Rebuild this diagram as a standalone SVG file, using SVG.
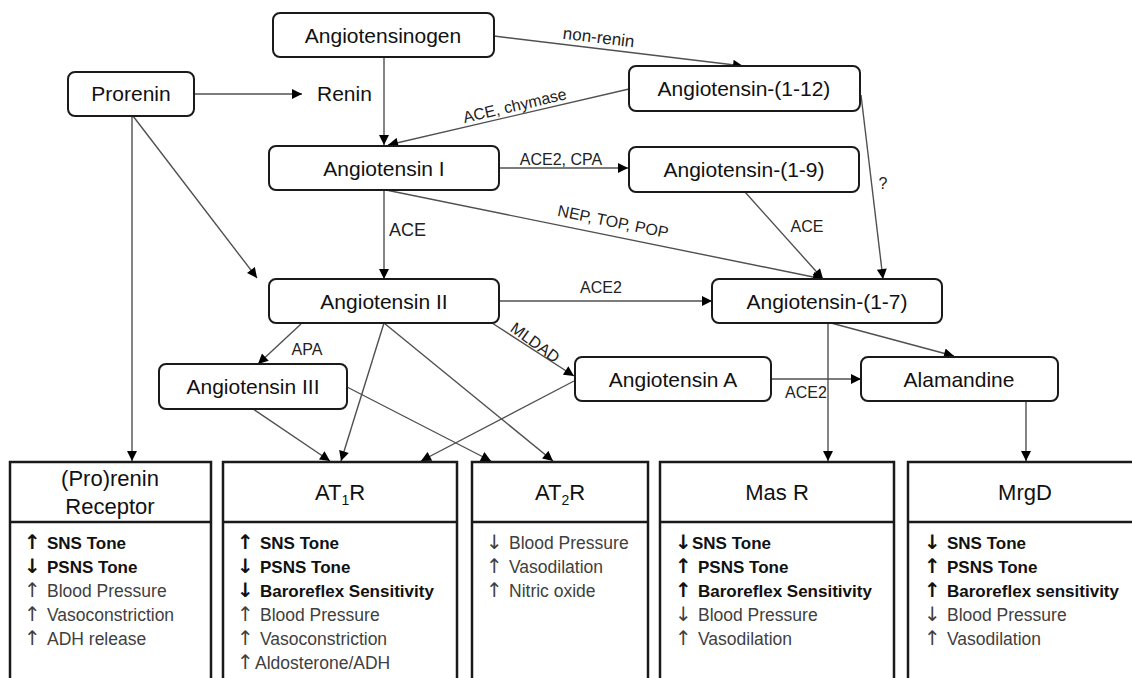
<svg xmlns="http://www.w3.org/2000/svg" width="1132" height="678" viewBox="0 0 1132 678">
<defs>
<style>
.node rect{fill:#fff;stroke:#1a1a1a;stroke-width:2}
.nt{font-family:"Liberation Sans",Arial,sans-serif;font-size:21px;fill:#111;text-anchor:middle}
.lab{font-family:"Liberation Sans",Arial,sans-serif;font-size:16px;fill:#222}
.conn path{fill:none;stroke:#505050;stroke-width:1.4;marker-end:url(#ah)}
.rbox rect{fill:#fff;stroke:#1a1a1a;stroke-width:2.5}
.rbox line{stroke:#1a1a1a;stroke-width:2.5}
.hd{font-family:"Liberation Sans",Arial,sans-serif;font-size:22px;fill:#111;text-anchor:middle}
.b{font-family:"Liberation Sans",Arial,sans-serif;font-size:17px;font-weight:bold;fill:#111}
.r{font-family:"Liberation Sans",Arial,sans-serif;font-size:17.5px;fill:#404040}
.ar{font-family:"DejaVu Sans",sans-serif;font-size:20px}
</style>
<marker id="ah" viewBox="0 0 10 10" refX="10" refY="5" markerWidth="11" markerHeight="10" markerUnits="userSpaceOnUse" orient="auto">
<path d="M0,0 L10,5 L0,10 Z" fill="#000"/>
</marker>
</defs>
<rect width="1132" height="678" fill="#fff"/>

<g id="connectors" class="conn">
<path d="M384,57 L384,145"/>
<path d="M629,89 L388,145"/>
<path d="M494,36 L743,66"/>
<path d="M194,94 L302,94"/>
<path d="M133,116 L257,278"/>
<path d="M132,116 L132,461"/>
<path d="M499,168 L628,168"/>
<path d="M384,190 L384,279"/>
<path d="M386,190 L823,279"/>
<path d="M745,192 L823,279"/>
<path d="M861,95 L883,279"/>
<path d="M499,301 L712,301"/>
<path d="M301,324 L258,364"/>
<path d="M384,323 L341,461"/>
<path d="M384,323 L553,461"/>
<path d="M492,323 L574,376"/>
<path d="M253,409 L330,461"/>
<path d="M347,387 L491,461"/>
<path d="M574,381 L421,461"/>
<path d="M771,379 L861,379"/>
<path d="M828,323 L828,461"/>
<path d="M831,323 L954,356"/>
<path d="M1026,400 L1026,461"/>
</g>

<g id="edge-labels">
<text class="lab" text-anchor="middle" transform="translate(598,43) rotate(6.9)" style="font-size:17px">non-renin</text>
<text class="lab" text-anchor="middle" transform="translate(516,111) rotate(-13.1)">ACE, chymase</text>
<text class="lab" text-anchor="middle" x="561" y="165">ACE2, CPA</text>
<text class="lab" x="389" y="236" style="font-size:18px">ACE</text>
<text class="lab" text-anchor="middle" transform="translate(612,227) rotate(11.5)">NEP, TOP, POP</text>
<text class="lab" text-anchor="middle" x="807" y="232">ACE</text>
<text class="lab" text-anchor="middle" x="883" y="189">?</text>
<text class="lab" text-anchor="middle" x="601" y="293">ACE2</text>
<text class="lab" text-anchor="middle" x="307" y="355">APA</text>
<text class="lab" text-anchor="middle" transform="translate(532,347) rotate(36)">MLDAD</text>
<text class="lab" text-anchor="middle" x="806" y="398">ACE2</text>
</g>

<g id="renin"><text class="nt" x="317" y="101" style="text-anchor:start">Renin</text></g>

<g id="angiotensinogen" class="node"><rect x="273" y="13" width="221" height="44" rx="7"/><text class="nt" x="383" y="43">Angiotensinogen</text></g>
<g id="prorenin" class="node"><rect x="68" y="72" width="126" height="44" rx="7"/><text class="nt" x="131" y="101">Prorenin</text></g>
<g id="ang1-12" class="node"><rect x="629" y="66" width="231" height="45" rx="7"/><text class="nt" x="744" y="96">Angiotensin-(1-12)</text></g>
<g id="ang1" class="node"><rect x="269" y="146" width="230" height="44" rx="7"/><text class="nt" x="384" y="176">Angiotensin I</text></g>
<g id="ang1-9" class="node"><rect x="629" y="147" width="230" height="45" rx="7"/><text class="nt" x="744" y="177">Angiotensin-(1-9)</text></g>
<g id="ang2" class="node"><rect x="269" y="279" width="230" height="44" rx="7"/><text class="nt" x="384" y="309">Angiotensin II</text></g>
<g id="ang1-7" class="node"><rect x="712" y="279" width="230" height="44" rx="7"/><text class="nt" x="827" y="309">Angiotensin-(1-7)</text></g>
<g id="ang3" class="node"><rect x="159" y="364" width="188" height="45" rx="7"/><text class="nt" x="253" y="394">Angiotensin III</text></g>
<g id="angA" class="node"><rect x="575" y="357" width="196" height="44" rx="7"/><text class="nt" x="673" y="387">Angiotensin A</text></g>
<g id="alamandine" class="node"><rect x="861" y="357" width="197" height="44" rx="7"/><text class="nt" x="959" y="387">Alamandine</text></g>

<g id="prorenin-receptor" class="rbox">
<rect x="10" y="462" width="201" height="240"/>
<line x1="10" y1="522" x2="211" y2="522"/>
<text class="hd" x="110" y="486">(Pro)renin</text>
<text class="hd" x="110" y="514">Receptor</text>
<text class="b" x="24" y="549"><tspan class="ar">↑</tspan><tspan x="47">SNS Tone</tspan></text>
<text class="b" x="24" y="573"><tspan class="ar">↓</tspan><tspan x="47">PSNS Tone</tspan></text>
<text class="r" x="24" y="597"><tspan class="ar">↑</tspan><tspan x="47">Blood Pressure</tspan></text>
<text class="r" x="24" y="621"><tspan class="ar">↑</tspan><tspan x="47">Vasoconstriction</tspan></text>
<text class="r" x="24" y="645"><tspan class="ar">↑</tspan><tspan x="47">ADH release</tspan></text>
</g>

<g id="at1r" class="rbox">
<rect x="223" y="462" width="234" height="240"/>
<line x1="223" y1="522" x2="457" y2="522"/>
<text class="hd" x="340" y="500">AT<tspan font-size="14" dy="5">1</tspan><tspan dy="-5">R</tspan></text>
<text class="b" x="237" y="549"><tspan class="ar">↑</tspan><tspan x="260">SNS Tone</tspan></text>
<text class="b" x="237" y="573"><tspan class="ar">↓</tspan><tspan x="260">PSNS Tone</tspan></text>
<text class="b" x="237" y="597"><tspan class="ar">↓</tspan><tspan x="260">Baroreflex Sensitivity</tspan></text>
<text class="r" x="237" y="621"><tspan class="ar">↑</tspan><tspan x="260">Blood Pressure</tspan></text>
<text class="r" x="237" y="645"><tspan class="ar">↑</tspan><tspan x="260">Vasoconstriction</tspan></text>
<text class="r" x="237" y="669"><tspan class="ar">↑</tspan><tspan x="255">Aldosterone/ADH</tspan></text>
</g>

<g id="at2r" class="rbox">
<rect x="472" y="462" width="176" height="240"/>
<line x1="472" y1="522" x2="648" y2="522"/>
<text class="hd" x="560" y="500">AT<tspan font-size="14" dy="5">2</tspan><tspan dy="-5">R</tspan></text>
<text class="r" x="486" y="549"><tspan class="ar">↓</tspan><tspan x="509">Blood Pressure</tspan></text>
<text class="r" x="486" y="573"><tspan class="ar">↑</tspan><tspan x="509">Vasodilation</tspan></text>
<text class="r" x="486" y="597"><tspan class="ar">↑</tspan><tspan x="509">Nitric oxide</tspan></text>
</g>

<g id="masr" class="rbox">
<rect x="660" y="462" width="234" height="240"/>
<line x1="660" y1="522" x2="894" y2="522"/>
<text class="hd" x="777" y="500">Mas R</text>
<text class="b" x="675" y="549"><tspan class="ar">↓</tspan><tspan x="692">SNS Tone</tspan></text>
<text class="b" x="675" y="573"><tspan class="ar">↑</tspan><tspan x="698">PSNS Tone</tspan></text>
<text class="b" x="675" y="597"><tspan class="ar">↑</tspan><tspan x="698">Baroreflex Sensitivity</tspan></text>
<text class="r" x="675" y="621"><tspan class="ar">↓</tspan><tspan x="698">Blood Pressure</tspan></text>
<text class="r" x="675" y="645"><tspan class="ar">↑</tspan><tspan x="698">Vasodilation</tspan></text>
</g>

<g id="mrgd" class="rbox">
<rect x="908" y="462" width="240" height="240"/>
<line x1="908" y1="522" x2="1148" y2="522"/>
<text class="hd" x="1025" y="500">MrgD</text>
<text class="b" x="924" y="549"><tspan class="ar">↓</tspan><tspan x="947">SNS Tone</tspan></text>
<text class="b" x="924" y="573"><tspan class="ar">↑</tspan><tspan x="947">PSNS Tone</tspan></text>
<text class="b" x="924" y="597"><tspan class="ar">↑</tspan><tspan x="947">Baroreflex sensitivity</tspan></text>
<text class="r" x="924" y="621"><tspan class="ar">↓</tspan><tspan x="947">Blood Pressure</tspan></text>
<text class="r" x="924" y="645"><tspan class="ar">↑</tspan><tspan x="947">Vasodilation</tspan></text>
</g>
</svg>
